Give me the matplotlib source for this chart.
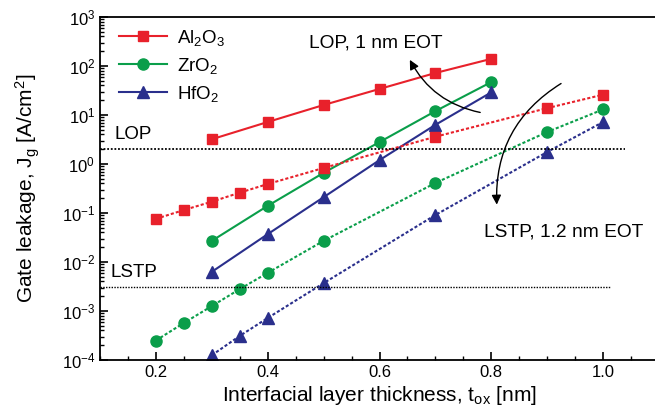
import numpy as np
import matplotlib
matplotlib.use("Agg")
import matplotlib.pyplot as plt
from matplotlib.ticker import MultipleLocator, LogLocator, NullFormatter

plt.rcParams["font.family"] = ["Liberation Sans", "DejaVu Sans"]
plt.rcParams["mathtext.fontset"] = "custom"
plt.rcParams["mathtext.rm"] = "Liberation Sans"
plt.rcParams["mathtext.it"] = "Liberation Sans"

# LOP, 1 nm EOT (solid)
x_lop = [0.3, 0.4, 0.5, 0.6, 0.7, 0.8]
al_lop = [3.2, 7.2, 16, 34, 72, 140]
zr_lop = [0.027, 0.14, 0.66, 2.8, 12, 47]
hf_lop = [6.3e-3, 0.037, 0.21, 1.2, 6.3, 29]

# LSTP, 1.2 nm EOT (dotted)
x_al_lstp = [0.2, 0.25, 0.3, 0.35, 0.4, 0.5, 0.7, 0.9, 1.0]
al_lstp = [0.076, 0.115, 0.17, 0.26, 0.39, 0.83, 3.6, 13.8, 26]
x_zr_lstp = [0.2, 0.25, 0.3, 0.35, 0.4, 0.5, 0.7, 0.9, 1.0]
zr_lstp = [2.5e-4, 5.7e-4, 1.26e-3, 2.8e-3, 6e-3, 0.027, 0.41, 4.5, 13]
x_hf_lstp = [0.3, 0.35, 0.4, 0.5, 0.7, 0.9, 1.0]
hf_lstp = [1.25e-4, 3.1e-4, 7.2e-4, 3.7e-3, 0.091, 1.76, 7.2]

# spec limits
lop_limit = 2.0
lstp_limit = 3.1e-3

red = "#e8212b"
green = "#0a9e4a"
blue = "#2a2f8c"

fig = plt.figure(figsize=(6.55, 4.16), dpi=100)
ax = fig.add_axes([100/655, 1-360/416, 559/655, 343/416])

ax.plot(x_lop, al_lop, "-s", color=red, ms=7, lw=1.5, label="Al$_2$O$_3$")
ax.plot(x_lop, zr_lop, "-o", color=green, ms=8, lw=1.5, label="ZrO$_2$")
ax.plot(x_lop, hf_lop, "-^", color=blue, ms=8, lw=1.5, label="HfO$_2$")

ax.plot(x_al_lstp, al_lstp, "s", ls=(0, (1.5, 1)), color=red, ms=7, lw=1.5)
ax.plot(x_zr_lstp, zr_lstp, "o", ls=(0, (1.5, 1)), color=green, ms=8, lw=1.5)
ax.plot(x_hf_lstp, hf_lstp, "^", ls=(0, (1.5, 1)), color=blue, ms=8, lw=1.5)

ax.plot([0.1, 1.04], [lop_limit, lop_limit], color="black", ls=(0, (1, 1)), lw=1.3)
ax.plot([0.1, 1.015], [lstp_limit, lstp_limit], color="black", ls=(0, (1, 1)), lw=1.0)

ax.text(0.126, 3.3, "LOP", fontsize=13.5)
ax.text(0.118, 5.0e-3, "LSTP", fontsize=13.5)
ax.text(0.473, 300, "LOP, 1 nm EOT", fontsize=13.8, va="center")
ax.text(0.787, 0.041, "LSTP, 1.2 nm EOT", fontsize=13.8, va="center")

ax.annotate("", xy=(0.652, 150), xytext=(0.785, 11),
            arrowprops=dict(arrowstyle="-|>", color="black", lw=1.0,
                            mutation_scale=14,
                            connectionstyle="arc3,rad=-0.25"))
ax.annotate("", xy=(0.81, 0.13), xytext=(0.929, 47),
            arrowprops=dict(arrowstyle="-|>", color="black", lw=1.0,
                            mutation_scale=14,
                            connectionstyle="arc3,rad=0.3"))

ax.set_yscale("log")
ax.set_xlim(0.1, 1.1)
ax.set_ylim(1e-4, 1e3)
ax.set_xticks([0.2, 0.4, 0.6, 0.8, 1.0])
ax.xaxis.set_minor_locator(MultipleLocator(0.05))
ax.yaxis.set_major_locator(LogLocator(base=10, numticks=20))
ax.yaxis.set_minor_locator(LogLocator(base=10, subs=np.arange(2, 10), numticks=20))
ax.yaxis.set_minor_formatter(NullFormatter())
ax.tick_params(which="both", direction="in", top=False, right=False, labelsize=12)
ax.tick_params(which="major", length=6, width=1.2)
ax.tick_params(which="minor", length=3, width=1.0)
ax.xaxis.set_major_formatter(plt.FuncFormatter(lambda v, p: "%.1f" % v))
for s in ax.spines.values():
    s.set_linewidth(1.3)

ax.set_xlabel("Interfacial layer thickness, t$_{\\rm ox}$ [nm]", fontsize=15, labelpad=3)
ax.set_ylabel("Gate leakage, J$_{\\rm g}$ [A/cm$^2$]", fontsize=15, labelpad=14)

ax.legend(loc="upper left", frameon=False, fontsize=13.5, handlelength=2.6,
          borderaxespad=0.0, labelspacing=0.42, handletextpad=0.5,
          bbox_to_anchor=(0.02, 0.99))

fig.savefig("out.png", dpi=100)
